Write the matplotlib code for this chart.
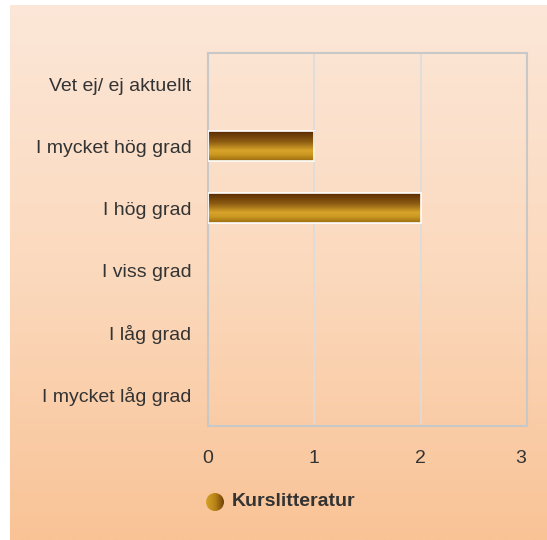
import numpy as np
import matplotlib
matplotlib.use("Agg")
import matplotlib.pyplot as plt
from matplotlib.colors import LinearSegmentedColormap, to_rgb
from matplotlib.patches import Circle
import matplotlib.transforms as mtransforms

categories = ["Vet ej/ ej aktuellt", "I mycket hög grad", "I hög grad",
              "I viss grad", "I låg grad", "I mycket låg grad"]
values = [0, 1, 2, 0, 0, 0]
series_name = "Kurslitteratur"
xticks = [0, 1, 2, 3]

plt.rcParams['font.family'] = ['Liberation Sans', 'DejaVu Sans']
W, H = 547, 540
fig = plt.figure(figsize=(W / 100, H / 100), dpi=100, facecolor="white")

# background panel gradient
bg = fig.add_axes([10 / W, 0, (W - 10) / W, (H - 5) / H], zorder=-10)
bg_cmap = LinearSegmentedColormap.from_list("bg", ["#fce7d8", "#fbd9bd", "#f9c396"])
grad = np.linspace(0, 1, 256).reshape(-1, 1)
bg.imshow(grad, aspect="auto", cmap=bg_cmap, extent=[0, 1, 0, 1], origin="upper")
bg.set_axis_off()

ax = fig.add_axes([208 / W, 1 - 426 / H, (527 - 208) / W, (426 - 53) / H])
ax.set_facecolor("none")

bar_cmap = LinearSegmentedColormap.from_list(
    "bar", [(0.0, "#5a2a02"), (0.35, "#8c5c12"), (0.65, "#d8a42a"),
            (0.8, "#c99620"), (1.0, "#9a6a10")])

y = np.arange(len(categories))
bars = ax.barh(y, values, height=0.48, color="none", edgecolor="white",
               linewidth=1.2, zorder=3)
vgrad = np.linspace(0, 1, 128).reshape(-1, 1)
for b in bars:
    w = b.get_width()
    if w <= 0:
        b.set_visible(False)
        continue
    x0, y0 = b.get_x(), b.get_y()
    hgt = b.get_height()
    im = ax.imshow(vgrad, aspect="auto", cmap=bar_cmap,
                   extent=[x0, x0 + w, y0 + hgt, y0], origin="upper", zorder=2)
    im.set_clip_path(b)

ax.set_xlim(0, 3)
ax.set_ylim(len(categories) - 0.5, -0.5)
ax.set_yticks(y)
ax.set_yticklabels(categories)
ax.set_xticks(xticks)
ax.set_xticklabels([str(t) for t in xticks])
ax.tick_params(axis="both", length=0, labelsize=14, colors="#333333")
ax.tick_params(axis="y", pad=12)
ax.tick_params(axis="x", pad=17)
ax.grid(axis="x", color="#dcdcdc", linewidth=1.2, zorder=1)
ax.set_axisbelow(True)
for s in ax.spines.values():
    s.set_color("#c8c8c8")
    s.set_linewidth(1.5)

# shift last x tick label slightly left as in reference
lbl = ax.get_xticklabels()[-1]
lbl.set_transform(lbl.get_transform() + mtransforms.ScaledTranslation(-6 / 100, 0, fig.dpi_scale_trans))

# legend
lx, ly, r = 215, 502, 9
lax = fig.add_axes([(lx - r - 1) / W, 1 - (ly + r + 1) / H, (2 * r + 2) / W, (2 * r + 2) / H])
lax.set_xlim(-1, 1)
lax.set_ylim(-1, 1)
lax.set_axis_off()
leg_cmap = LinearSegmentedColormap.from_list("leg", ["#d8a42a", "#b88418", "#6a3a06"])
hgrad = np.linspace(0, 1, 128).reshape(1, -1)
circ = Circle((0, 0), r / (r + 1), transform=lax.transData, facecolor="none", edgecolor="none")
lax.add_patch(circ)
lim = lax.imshow(hgrad, aspect="auto", cmap=leg_cmap, extent=[-1, 1, -1, 1])
lim.set_clip_path(circ)
fig.text(232 / W, 1 - ly / H, series_name, fontsize=14, fontweight="bold",
         color="#333333", va="center", ha="left")

fig.savefig("out.png", dpi=100, facecolor="white")
